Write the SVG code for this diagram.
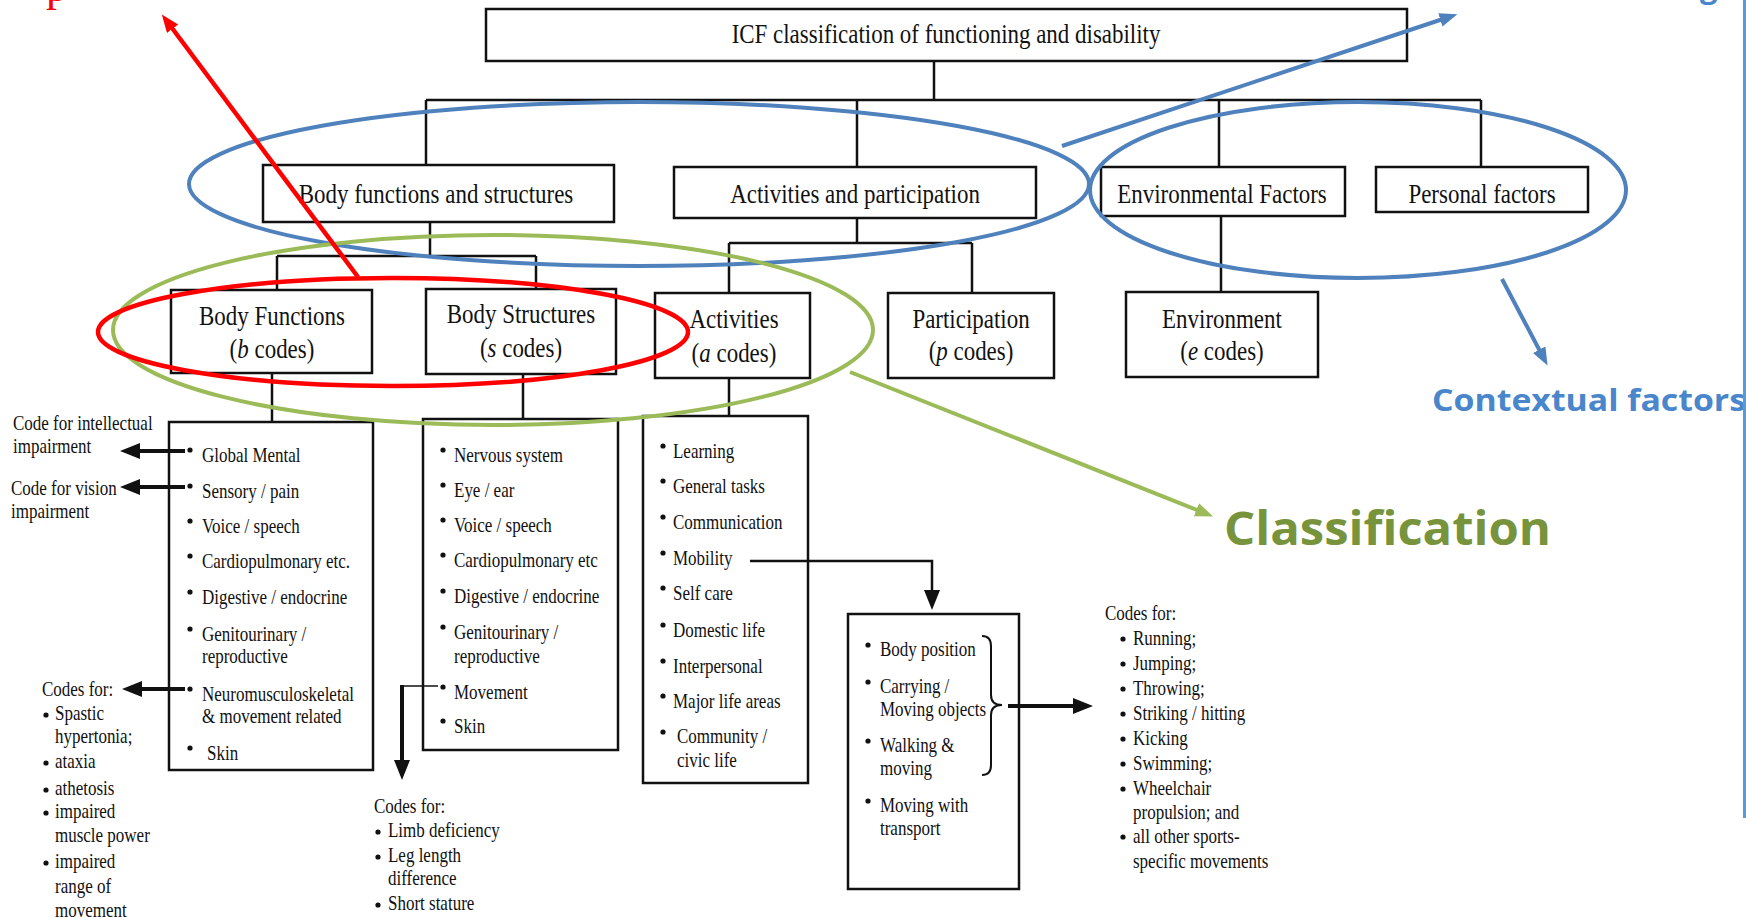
<svg xmlns="http://www.w3.org/2000/svg" width="1746" height="918" viewBox="0 0 1746 918">
<style>
.bx{fill:#fff;stroke:#111;stroke-width:2.5}
.ln{fill:none;stroke:#111;stroke-width:2.5}
.lb{font-family:"Liberation Serif","Times New Roman",serif;font-size:27px;fill:#111;text-anchor:middle;transform-box:fill-box;transform-origin:center;transform:scaleX(.85)}
.li{font-family:"Liberation Serif","Times New Roman",serif;font-size:20px;fill:#111;transform-box:fill-box;transform-origin:left center;transform:scaleX(.85)}
.bu{fill:#111}
.ar{fill:none;stroke:#111;stroke-width:4}
.blue{fill:none;stroke:#4f81bd;stroke-width:4}
.green{fill:none;stroke:#9bbb59;stroke-width:4}
.red{fill:none;stroke:#ff0000;stroke-width:4.5}
</style>
<defs>
<marker id="mk" markerUnits="userSpaceOnUse" markerWidth="22" markerHeight="18" refX="4" refY="8" orient="auto"><path d="M0,0 L20,8 L0,16 z" fill="#111"/></marker>
<marker id="mb" markerUnits="userSpaceOnUse" markerWidth="20" markerHeight="16" refX="6" refY="7" orient="auto"><path d="M0,0 L18,7 L0,14 z" fill="#4f81bd"/></marker>
<marker id="mg" markerUnits="userSpaceOnUse" markerWidth="20" markerHeight="16" refX="6" refY="7" orient="auto"><path d="M0,0 L18,7 L0,14 z" fill="#9bbb59"/></marker>
<marker id="mr" markerUnits="userSpaceOnUse" markerWidth="20" markerHeight="16" refX="6" refY="7" orient="auto"><path d="M0,0 L18,7 L0,14 z" fill="#ff0000"/></marker>
</defs>
<rect width="1746" height="918" fill="#fff"/>

<g id="icf"><rect class="bx" x="486" y="9" width="921" height="52"/><text class="lb" x="946" y="43">ICF classification of functioning and disability</text></g>
<g id="bfs"><rect class="bx" x="263" y="165" width="351" height="57"/><text class="lb" x="436" y="203">Body functions and structures</text></g>
<g id="ap"><rect class="bx" x="674" y="167" width="362" height="51"/><text class="lb" x="855" y="203">Activities and participation</text></g>
<g id="ef"><rect class="bx" x="1101" y="167" width="244" height="49"/><text class="lb" x="1222" y="203">Environmental Factors</text></g>
<g id="pf"><rect class="bx" x="1376" y="167" width="212" height="45"/><text class="lb" x="1482" y="203">Personal factors</text></g>
<g id="bf"><rect class="bx" x="171" y="290" width="201" height="83"/><text class="lb" x="272" y="325">Body Functions</text><text class="lb" x="272" y="358">(<tspan font-style="italic">b</tspan> codes)</text></g>
<g id="bs"><rect class="bx" x="426" y="289" width="190" height="85"/><text class="lb" x="521" y="323">Body Structures</text><text class="lb" x="521" y="357">(<tspan font-style="italic">s</tspan> codes)</text></g>
<g id="act"><rect class="bx" x="655" y="293" width="155" height="85"/><text class="lb" x="734" y="328">Activities</text><text class="lb" x="734" y="362">(<tspan font-style="italic">a</tspan> codes)</text></g>
<g id="par"><rect class="bx" x="888" y="293" width="166" height="85"/><text class="lb" x="971" y="328">Participation</text><text class="lb" x="971" y="360">(<tspan font-style="italic">p</tspan> codes)</text></g>
<g id="env"><rect class="bx" x="1126" y="292" width="192" height="85"/><text class="lb" x="1222" y="328">Environment</text><text class="lb" x="1222" y="360">(<tspan font-style="italic">e</tspan> codes)</text></g>

<g id="bf-list">
<rect class="bx" x="169" y="422" width="204" height="348"/>
<g class="bu"><circle cx="190" cy="450" r="2.6"/><circle cx="190" cy="486" r="2.6"/><circle cx="190" cy="521" r="2.6"/><circle cx="190" cy="556" r="2.6"/><circle cx="190" cy="592" r="2.6"/><circle cx="190" cy="629" r="2.6"/><circle cx="190" cy="689" r="2.6"/><circle cx="190" cy="748" r="2.6"/></g>
<text class="li" x="202" y="462">Global Mental</text>
<text class="li" x="202" y="498">Sensory / pain</text>
<text class="li" x="202" y="533">Voice / speech</text>
<text class="li" x="202" y="568">Cardiopulmonary etc.</text>
<text class="li" x="202" y="604">Digestive / endocrine</text>
<text class="li" x="202" y="641">Genitourinary /</text>
<text class="li" x="202" y="663">reproductive</text>
<text class="li" x="202" y="701">Neuromusculoskeletal</text>
<text class="li" x="202" y="723">&amp; movement related</text>
<text class="li" x="207" y="760">Skin</text>
</g>

<g id="bs-list">
<rect class="bx" x="423" y="419" width="195" height="331"/>
<g class="bu"><circle cx="443" cy="450" r="2.6"/><circle cx="443" cy="485" r="2.6"/><circle cx="443" cy="520" r="2.6"/><circle cx="443" cy="555" r="2.6"/><circle cx="443" cy="591" r="2.6"/><circle cx="443" cy="627" r="2.6"/><circle cx="443" cy="687" r="2.6"/><circle cx="443" cy="721" r="2.6"/></g>
<text class="li" x="454" y="462">Nervous system</text>
<text class="li" x="454" y="497">Eye / ear</text>
<text class="li" x="454" y="532">Voice / speech</text>
<text class="li" x="454" y="567">Cardiopulmonary etc</text>
<text class="li" x="454" y="603">Digestive / endocrine</text>
<text class="li" x="454" y="639">Genitourinary /</text>
<text class="li" x="454" y="663">reproductive</text>
<text class="li" x="454" y="699">Movement</text>
<text class="li" x="454" y="733">Skin</text>
</g>

<g id="act-list">
<rect class="bx" x="643" y="416" width="165" height="367"/>
<g class="bu"><circle cx="663" cy="446" r="2.6"/><circle cx="663" cy="481" r="2.6"/><circle cx="663" cy="517" r="2.6"/><circle cx="663" cy="553" r="2.6"/><circle cx="663" cy="588" r="2.6"/><circle cx="663" cy="625" r="2.6"/><circle cx="663" cy="661" r="2.6"/><circle cx="663" cy="696" r="2.6"/><circle cx="663" cy="732" r="2.6"/></g>
<text class="li" x="673" y="458">Learning</text>
<text class="li" x="673" y="493">General tasks</text>
<text class="li" x="673" y="529">Communication</text>
<text class="li" x="673" y="565">Mobility</text>
<text class="li" x="673" y="600">Self care</text>
<text class="li" x="673" y="637">Domestic life</text>
<text class="li" x="673" y="673">Interpersonal</text>
<text class="li" x="673" y="708">Major life areas</text>
<text class="li" x="677" y="743">Community /</text>
<text class="li" x="677" y="767">civic life</text>
</g>

<g id="mob-list">
<rect class="bx" x="848" y="614" width="171" height="275"/>
<g class="bu"><circle cx="868" cy="645" r="2.6"/><circle cx="868" cy="682" r="2.6"/><circle cx="868" cy="741" r="2.6"/><circle cx="868" cy="801" r="2.6"/></g>
<text class="li" x="880" y="656">Body position</text>
<text class="li" x="880" y="693">Carrying /</text>
<text class="li" x="880" y="716">Moving objects</text>
<text class="li" x="880" y="752">Walking &amp;</text>
<text class="li" x="880" y="775">moving</text>
<text class="li" x="880" y="812">Moving with</text>
<text class="li" x="880" y="835">transport</text>
<path fill="none" stroke="#111" stroke-width="2" d="M982,636 q9,0 9,10 v49 q0,10 11,10 q-11,0 -11,10 v50 q0,10 -9,10"/>
</g>

<g id="note-intellectual"><text class="li" x="13" y="430">Code for intellectual</text><text class="li" x="13" y="453">impairment</text></g>
<g id="note-vision"><text class="li" x="11" y="495">Code for vision</text><text class="li" x="11" y="518">impairment</text></g>

<g id="note-neuro">
<text class="li" x="42" y="696">Codes for:</text>
<g class="bu"><circle cx="46" cy="715" r="2.6"/><circle cx="46" cy="763" r="2.6"/><circle cx="46" cy="790" r="2.6"/><circle cx="46" cy="813" r="2.6"/><circle cx="46" cy="863" r="2.6"/></g>
<text class="li" x="55" y="720">Spastic</text>
<text class="li" x="55" y="743">hypertonia;</text>
<text class="li" x="55" y="768">ataxia</text>
<text class="li" x="55" y="795">athetosis</text>
<text class="li" x="55" y="818">impaired</text>
<text class="li" x="55" y="842">muscle power</text>
<text class="li" x="55" y="868">impaired</text>
<text class="li" x="55" y="893">range of</text>
<text class="li" x="55" y="917">movement</text>
</g>

<g id="note-movement">
<text class="li" x="374" y="813">Codes for:</text>
<g class="bu"><circle cx="378" cy="832" r="2.6"/><circle cx="378" cy="857" r="2.6"/><circle cx="378" cy="905" r="2.6"/></g>
<text class="li" x="388" y="837">Limb deficiency</text>
<text class="li" x="388" y="862">Leg length</text>
<text class="li" x="388" y="885">difference</text>
<text class="li" x="388" y="910">Short stature</text>
</g>

<g id="note-sports">
<text class="li" x="1105" y="620">Codes for:</text>
<g class="bu"><circle cx="1123" cy="639" r="2.6"/><circle cx="1123" cy="664" r="2.6"/><circle cx="1123" cy="689" r="2.6"/><circle cx="1123" cy="714" r="2.6"/><circle cx="1123" cy="739" r="2.6"/><circle cx="1123" cy="764" r="2.6"/><circle cx="1123" cy="789" r="2.6"/><circle cx="1123" cy="837" r="2.6"/></g>
<text class="li" x="1133" y="645">Running;</text>
<text class="li" x="1133" y="670">Jumping;</text>
<text class="li" x="1133" y="695">Throwing;</text>
<text class="li" x="1133" y="720">Striking / hitting</text>
<text class="li" x="1133" y="745">Kicking</text>
<text class="li" x="1133" y="770">Swimming;</text>
<text class="li" x="1133" y="795">Wheelchair</text>
<text class="li" x="1133" y="819">propulsion; and</text>
<text class="li" x="1133" y="843">all other sports-</text>
<text class="li" x="1133" y="868">specific movements</text>
</g>

<g id="connectors">
<path class="ln" d="M934,61 V100 M426,100 H1481 M426,100 V165 M857,100 V167 M1219,100 V167 M1481,100 V167"/>
<path class="ln" d="M430,222 V256 M277,256 H536 M277,256 V290 M536,256 V290"/>
<path class="ln" d="M857,218 V243 M729,243 H972 M729,243 V293 M972,243 V293"/>
<path class="ln" d="M1221,216 V292"/>
<path class="ln" d="M272,373 V422 M523,374 V419 M729,378 V416"/>
<line class="ar" x1="185" y1="451" x2="136" y2="451" marker-end="url(#mk)"/>
<line class="ar" x1="185" y1="487" x2="136" y2="487" marker-end="url(#mk)"/>
<line class="ar" x1="185" y1="689" x2="138" y2="689" marker-end="url(#mk)"/>
<path fill="none" stroke="#111" stroke-width="1.5" d="M438,686 H402"/>
<line class="ar" x1="402" y1="685" x2="402" y2="764" marker-end="url(#mk)"/>
<path fill="none" stroke="#111" stroke-width="2.5" d="M750,561 H932 V594" marker-end="url(#mk)"/>
<line class="ar" x1="1008" y1="706" x2="1077" y2="706" marker-end="url(#mk)"/>
</g>

<g id="annotations">
<ellipse class="blue" cx="639" cy="184" rx="450" ry="82"/>
<ellipse class="blue" cx="1358" cy="190" rx="268" ry="88"/>
<ellipse class="green" cx="493" cy="330" rx="380" ry="95"/>
<ellipse class="red" cx="393" cy="332" rx="295" ry="54" stroke-width="5"/>
<line class="red" x1="358" y1="277" x2="169" y2="24" marker-end="url(#mr)"/>
<line class="blue" x1="1062" y1="146" x2="1446" y2="18" marker-end="url(#mb)"/>
<line class="blue" x1="1502" y1="279" x2="1542" y2="355" marker-end="url(#mb)"/>
<line class="green" x1="850" y1="372" x2="1202" y2="512" marker-end="url(#mg)"/>
<text x="1224" y="545" font-family="'Open Sans','Noto Sans',sans-serif" font-weight="bold" font-size="46" fill="#77933c" textLength="327" lengthAdjust="spacingAndGlyphs">Classification</text>
<text x="1432" y="411" font-family="'Open Sans','Noto Sans',sans-serif" font-weight="bold" font-size="31" fill="#4a86cb" textLength="314" lengthAdjust="spacingAndGlyphs">Contextual factors</text>
<text x="46" y="1" font-family="'Liberation Serif',serif" font-size="44" fill="#ff0000">p</text>
<text x="1700" y="-2" font-family="'Open Sans','Noto Sans',sans-serif" font-weight="bold" font-size="31" fill="#4a86cb">g</text>
<rect x="1743" y="0" width="3" height="818" fill="#5b9bd5"/>
</g>
</svg>
